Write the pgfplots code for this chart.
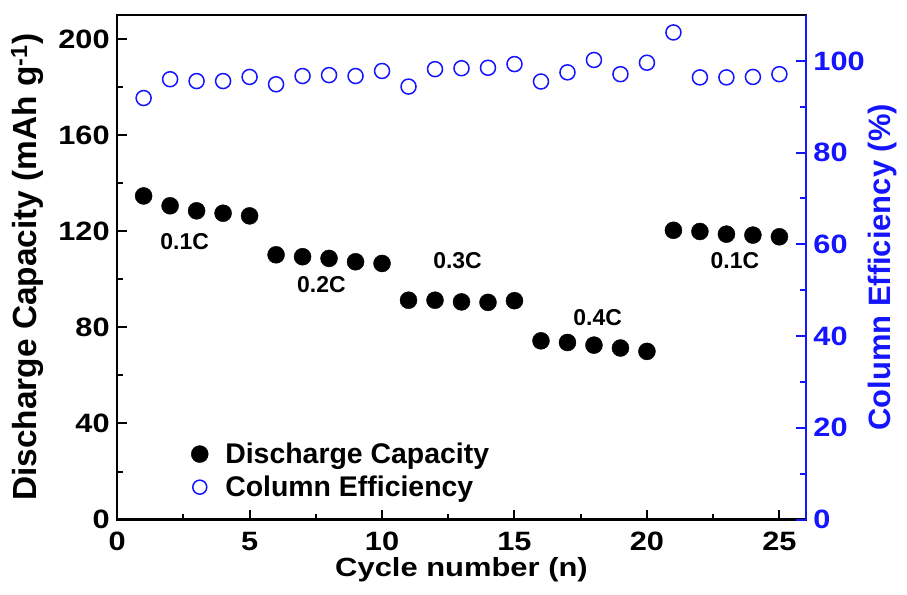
\documentclass[border=0pt]{standalone}
\usepackage{pgfplots}
\pgfplotsset{compat=1.18}
\usepackage{fontspec}
\setmainfont{Liberation Sans}
\definecolor{eblue}{RGB}{20,20,255}
\pgfplotstableread{
x cap eff
1 134.7 91.9
2 130.6 96.0
3 128.5 95.6
4 127.5 95.6
5 126.4 96.5
6 110.2 94.9
7 109.4 96.7
8 108.7 96.9
9 107.3 96.7
10 106.6 97.8
11 91.3 94.4
12 91.3 98.2
13 90.6 98.4
14 90.4 98.5
15 91.1 99.3
16 74.4 95.5
17 73.7 97.5
18 72.6 100.2
19 71.4 97.1
20 70.0 99.6
21 120.4 106.2
22 119.9 96.4
23 118.8 96.4
24 118.4 96.5
25 117.7 97.1
}\datatable
\begin{document}
\begin{tikzpicture}
\begin{axis}[
 scale only axis, width=688bp, height=504bp,
 xmin=0, xmax=26, ymin=0, ymax=210,
 xtick={0,5,...,25}, minor xtick={2.5,7.5,...,22.5},
 ytick={0,40,...,200}, minor ytick={20,60,...,180},
 xtick pos=left, ytick pos=left, tick align=inside,
 major tick length=10bp, minor tick length=6bp,
 every tick/.style={black, line width=2bp},
 axis line style={line width=2.5bp},
 /pgf/number format/assume math mode=true,
 ticklabel style={font=\fontsize{28}{28}\selectfont\bfseries},
 xticklabel style={yshift=-9bp},
 yticklabel style={xshift=-4bp},
 xticklabel={\scalebox{1.1}[0.95]{\pgfmathprintnumber{\tick}}},
 yticklabel={\scalebox{1.1}[0.95]{\pgfmathprintnumber{\tick}}},
 xlabel={\scalebox{1}[0.85]{Cycle number (n)}},
 ylabel={Discharge Capacity (mAh g\textsuperscript{-1})},
 xlabel style={font=\fontsize{31}{31}\selectfont\bfseries, yshift=0bp},
 ylabel style={font=\fontsize{33.5}{33.5}\selectfont\bfseries, at={([xshift=-90bp]rel axis cs:0,0.5)}, anchor=center},
 legend style={draw=none, fill=none, at={(0.103,0.16)}, anchor=north west,
   font=\fontsize{28.5}{28.5}\selectfont\bfseries, row sep=7bp,
   nodes={inner xsep=17bp}},
 legend cell align=left,
]
\addplot[only marks, mark=*, mark size=8.5bp, black] table[x=x, y=cap] {\datatable};
\addlegendentry{Discharge Capacity}
\addlegendimage{only marks, mark=o, mark size=7bp, eblue, line width=1.5bp}
\addlegendentry{Column Efficiency}
\coordinate (ll) at (rel axis cs:0,0);
\coordinate (ur) at (rel axis cs:1,1);
\node[font=\fontsize{23}{23}\selectfont\bfseries] at (axis cs:2.55,115.8) {0.1C};
\node[font=\fontsize{23}{23}\selectfont\bfseries] at (axis cs:7.71,97.7) {0.2C};
\node[font=\fontsize{23}{23}\selectfont\bfseries] at (axis cs:12.85,107.9) {0.3C};
\node[font=\fontsize{23}{23}\selectfont\bfseries] at (axis cs:18.14,84.0) {0.4C};
\node[font=\fontsize{23}{23}\selectfont\bfseries] at (axis cs:23.32,107.9) {0.1C};
\end{axis}
\begin{axis}[
 scale only axis, width=688bp, height=504bp,
 xmin=0, xmax=26, ymin=0, ymax=110,
 axis x line=none, axis y line*=right,
 ytick={0,20,...,100}, minor ytick={10,30,...,90},
 tick align=inside,
 major tick length=10bp, minor tick length=6bp,
 every tick/.style={eblue, line width=2bp},
 axis line style={eblue, line width=2bp},
 /pgf/number format/assume math mode=true,
 yticklabel style={font=\fontsize{28}{28}\selectfont\bfseries, text=eblue, xshift=4bp},
 yticklabel={\scalebox{1.1}[0.95]{\pgfmathprintnumber{\tick}}},
 ylabel={Column Efficiency (\%)},
 ylabel style={font=\fontsize{31}{31}\selectfont\bfseries, text=eblue, at={([xshift=77bp]rel axis cs:1,0.5)}, anchor=center},
]
\addplot[only marks, mark=o, mark size=7.5bp, eblue, line width=1.5bp] table[x=x, y=eff] {\datatable};
\end{axis}
\pgfresetboundingbox
\path ([shift={(-117bp,-75bp)}]ll) rectangle ([shift={(101bp,15bp)}]ur);
\end{tikzpicture}
\end{document}
